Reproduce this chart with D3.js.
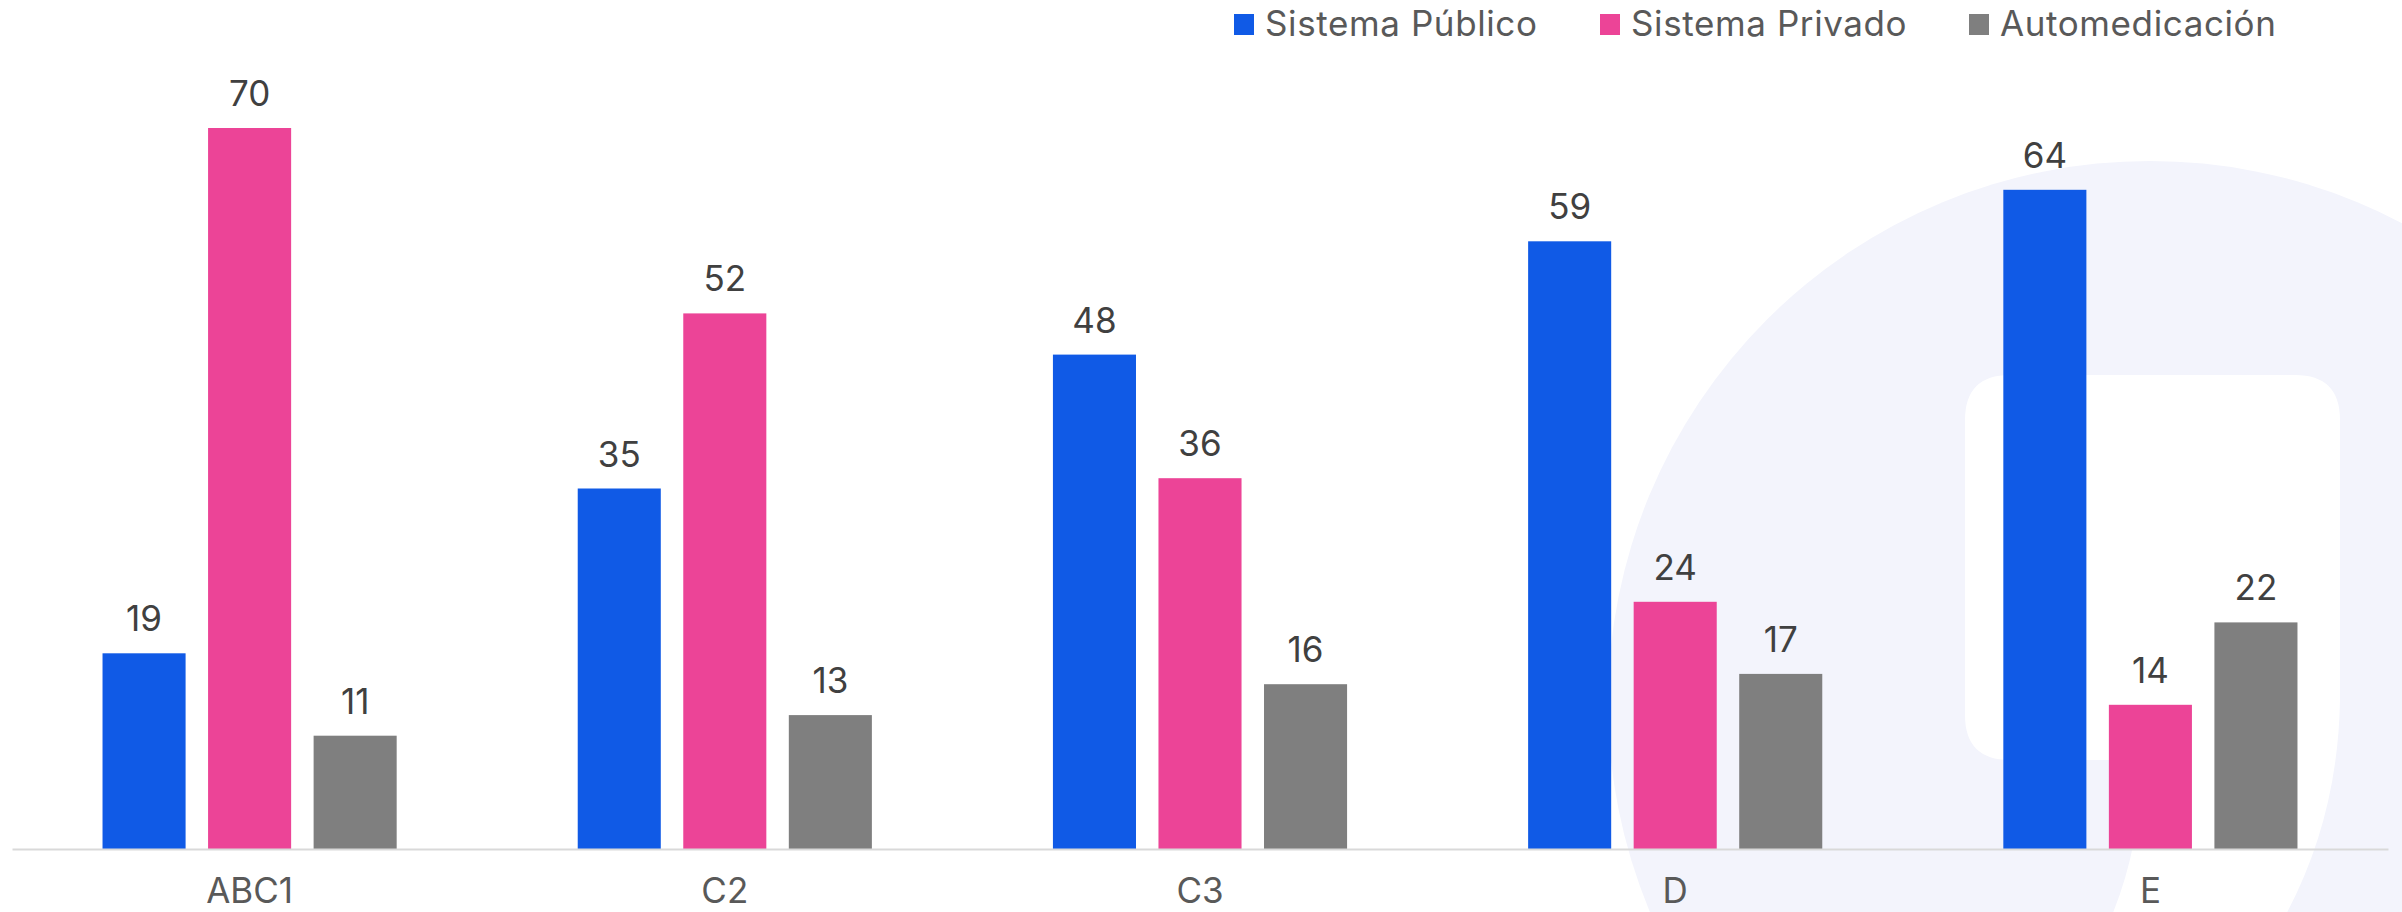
<!DOCTYPE html>
<html>
<head>
<meta charset="utf-8">
<script src="https://cdn.jsdelivr.net/npm/d3@7"></script>
<style>
  html, body { margin: 0; padding: 0; background: #ffffff; }
  svg { display: block; font-family: Inter, "Noto Sans", sans-serif; }
</style>
</head>
<body>
<div id="chart"></div>
<script>
// chart data
var categories = ["ABC1", "C2", "C3", "D", "E"];
var seriesNames = ["Sistema Público", "Sistema Privado", "Automedicación"];
var publico = [19, 35, 48, 59, 64];
var privado = [70, 52, 36, 24, 14];
var automed = [11, 13, 16, 17, 22];
var seriesColors = ["#105ae6", "#ec4497", "#7f7f7f"];

var W = 2402, H = 912;
var baseY = 849;

var svg = d3.select("#chart").append("svg")
  .attr("width", W)
  .attr("height", H);

// faint watermark logo in the background
var wm = svg.append("g");
wm.append("circle")
  .attr("cx", 2150).attr("cy", 703).attr("r", 542)
  .style("fill", "#f3f4fc");
wm.append("path")
  .attr("d", "M1965,420 Q1965,375 2010,375 L2295,375 Q2340,375 2340,420 L2340,700 Q2338,820 2283,920 L2110,920 Q2140,850 2143,760 L2010,760 Q1965,760 1965,715 Z")
  .style("fill", "#ffffff");

var x0 = d3.scaleBand()
  .domain(categories)
  .range([12, 2388])
  .paddingInner(0.381)
  .paddingOuter(0.1905);

var x1 = d3.scaleBand()
  .domain(seriesNames)
  .range([0, x0.bandwidth()])
  .paddingInner(0.213);

var y = d3.scaleLinear()
  .domain([0, 70])
  .range([baseY, 128]);

var rows = categories.map(function(c, i) {
  return { cat: c, values: [publico[i], privado[i], automed[i]] };
});

var groups = svg.selectAll("g.grp")
  .data(rows)
  .enter()
  .append("g")
    .attr("class", "grp")
    .attr("transform", function(d) { return "translate(" + x0(d.cat) + ",0)"; });

var bars = groups.selectAll("g.bar")
  .data(function(d) {
    return d.values.map(function(v, k) { return { name: seriesNames[k], value: v, k: k }; });
  })
  .enter()
  .append("g")
    .attr("class", "bar");

bars.append("rect")
  .attr("x", function(d) { return x1(d.name); })
  .attr("y", function(d) { return y(d.value); })
  .attr("width", x1.bandwidth())
  .attr("height", function(d) { return baseY - y(d.value); })
  .style("fill", function(d) { return seriesColors[d.k]; });

bars.append("text")
  .attr("x", function(d) { return x1(d.name) + x1.bandwidth() / 2; })
  .attr("y", function(d) { return y(d.value) - 22; })
  .attr("text-anchor", "middle")
  .style("font-size", "35px")
  .style("fill", "#404040")
  .text(function(d) { return d.value; });

// category axis
var axis = svg.append("g")
  .attr("transform", "translate(0," + baseY + ")")
  .call(d3.axisBottom(x0).tickSize(0).tickSizeOuter(0));
axis.select(".domain")
  .style("stroke", "#d9d9d9")
  .style("stroke-width", 2);
axis.selectAll(".tick text")
  .attr("y", 54)
  .attr("dy", null)
  .style("font-family", "Inter, 'Noto Sans', sans-serif")
  .style("font-size", "35px")
  .style("fill", "#595959");

// legend
var legendX = [1234, 1600, 1969];
var legend = svg.selectAll("g.legend")
  .data(seriesNames)
  .enter()
  .append("g")
    .attr("class", "legend")
    .attr("transform", function(d, i) { return "translate(" + legendX[i] + ",0)"; });

legend.append("rect")
  .attr("x", 0)
  .attr("y", 14)
  .attr("width", 20)
  .attr("height", 21)
  .style("fill", function(d, i) { return seriesColors[i]; });

legend.append("text")
  .attr("x", 31)
  .attr("y", 36)
  .style("font-size", "35px")
  .style("letter-spacing", "0.6px")
  .style("fill", "#595959")
  .text(function(d) { return d; });
</script>
</body>
</html>
